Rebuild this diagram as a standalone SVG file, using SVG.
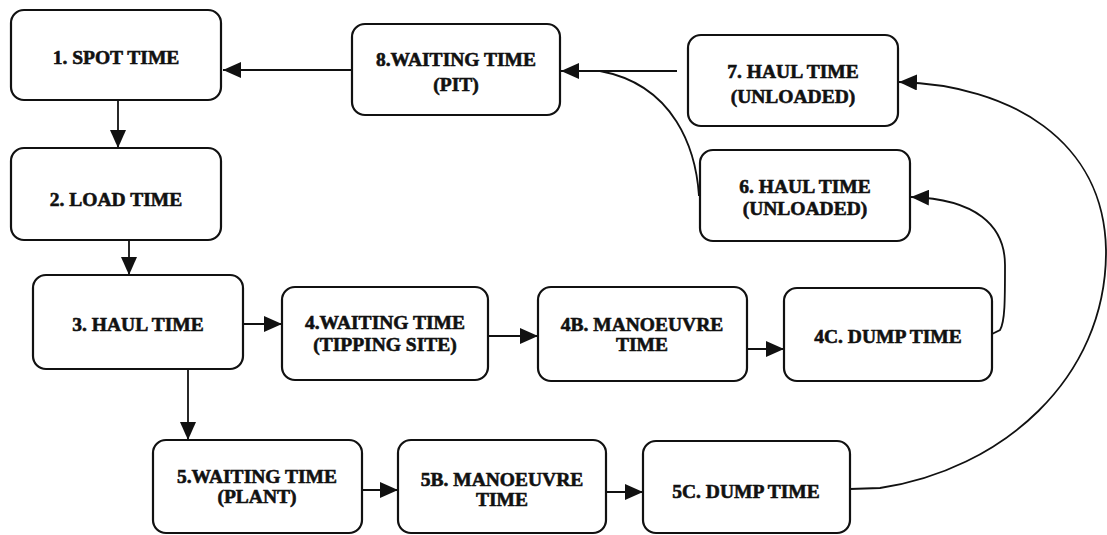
<svg xmlns="http://www.w3.org/2000/svg" width="1107" height="535" viewBox="0 0 1107 535">
<defs>
<style>
.box{fill:#fff;stroke:#111;stroke-width:2.2}
.t{font-family:"Liberation Serif","Times New Roman",serif;font-weight:bold;font-size:19.5px;fill:#111;text-anchor:middle;stroke:#111;stroke-width:0.6}
.c{fill:none;stroke:#111;stroke-width:1.8}
</style>
<marker id="ah" markerUnits="userSpaceOnUse" markerWidth="19" markerHeight="16" refX="18" refY="8" orient="auto">
<path d="M0,0 L18,8 L0,16 Z" fill="#111"/>
</marker>
</defs>
<rect width="1107" height="535" fill="#fff"/>
<g id="connectors">
<line class="c" x1="352" y1="70" x2="223" y2="70" marker-end="url(#ah)"/>
<line class="c" x1="118" y1="100" x2="118" y2="148" marker-end="url(#ah)"/>
<line class="c" x1="129" y1="240" x2="129" y2="275" marker-end="url(#ah)"/>
<line class="c" x1="243" y1="324" x2="282" y2="324" marker-end="url(#ah)"/>
<line class="c" x1="188" y1="369" x2="188" y2="440" marker-end="url(#ah)"/>
<line class="c" x1="488" y1="336" x2="538" y2="336" marker-end="url(#ah)"/>
<line class="c" x1="747" y1="349" x2="784" y2="349" marker-end="url(#ah)"/>
<line class="c" x1="362" y1="490" x2="398" y2="490" marker-end="url(#ah)"/>
<line class="c" x1="606" y1="492" x2="643" y2="492" marker-end="url(#ah)"/>
<line class="c" x1="677" y1="71" x2="561" y2="71" marker-end="url(#ah)"/>
<path class="c" d="M699 196 C696 150 675 85 600 71"/>
<path class="c" d="M992 334 L1000 330 C1005 322 1005 300 1005 265 C1005 225 975 199 911 197" marker-end="url(#ah)"/>
<path class="c" d="M850 489 L880 488 C1000 470 1107 380 1106 250 C1104 140 1010 85 899 82" marker-end="url(#ah)"/>
</g>
<g id="n1"><rect class="box" x="11" y="10" width="210" height="90" rx="13"/><text class="t" x="116" y="64">1. SPOT TIME</text></g>
<g id="n2"><rect class="box" x="11" y="148" width="210" height="92" rx="13"/><text class="t" x="116" y="206">2. LOAD TIME</text></g>
<g id="n3"><rect class="box" x="33" y="275" width="210" height="94" rx="13"/><text class="t" x="138" y="331">3. HAUL TIME</text></g>
<g id="n4"><rect class="box" x="282" y="287" width="206" height="93" rx="13"/><text class="t" x="385" y="329">4.WAITING TIME</text><text class="t" x="385" y="351">(TIPPING SITE)</text></g>
<g id="n4b"><rect class="box" x="538" y="287" width="209" height="94" rx="13"/><text class="t" x="642" y="331">4B. MANOEUVRE</text><text class="t" x="642" y="351">TIME</text></g>
<g id="n4c"><rect class="box" x="784" y="288" width="208" height="93" rx="13"/><text class="t" x="888" y="343">4C. DUMP TIME</text></g>
<g id="n5"><rect class="box" x="153" y="440" width="209" height="93" rx="13"/><text class="t" x="257" y="483">5.WAITING TIME</text><text class="t" x="257" y="503">(PLANT)</text></g>
<g id="n5b"><rect class="box" x="398" y="440" width="208" height="93" rx="13"/><text class="t" x="502" y="486">5B. MANOEUVRE</text><text class="t" x="502" y="506">TIME</text></g>
<g id="n5c"><rect class="box" x="643" y="441" width="207" height="92" rx="13"/><text class="t" x="746" y="498">5C. DUMP TIME</text></g>
<g id="n6"><rect class="box" x="700" y="150" width="210" height="91" rx="13"/><text class="t" x="805" y="193">6. HAUL TIME</text><text class="t" x="805" y="215">(UNLOADED)</text></g>
<g id="n7"><rect class="box" x="688" y="35" width="210" height="91" rx="13"/><text class="t" x="793" y="78">7. HAUL TIME</text><text class="t" x="793" y="103">(UNLOADED)</text></g>
<g id="n8"><rect class="box" x="352" y="24" width="208" height="91" rx="13"/><text class="t" x="456" y="66">8.WAITING TIME</text><text class="t" x="456" y="91">(PIT)</text></g>
</svg>
